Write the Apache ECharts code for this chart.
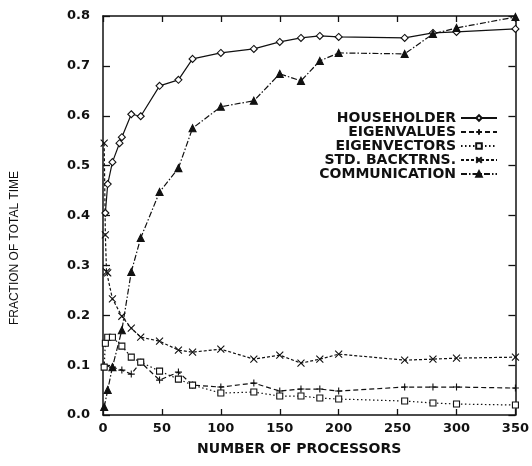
<!DOCTYPE html>
<html>
<head>
<meta charset="utf-8">
<script src="https://cdn.jsdelivr.net/npm/echarts@6.0.0/dist/echarts.min.js"></script>
<style>
html,body{margin:0;padding:0;background:#fff;}
#chart{width:532px;height:466px;}
</style>
</head>
<body>
<div id="chart"></div>
<script>
// ---- data ----
var seriesNames = ['HOUSEHOLDER', 'EIGENVALUES', 'EIGENVECTORS', 'STD. BACKTRNS.', 'COMMUNICATION'];

var householderX = [2, 4, 8, 14, 16, 24, 32, 48, 64, 76, 100, 128, 150, 168, 184, 200, 256, 280, 300, 350];
var householderY = [0.405, 0.463, 0.507, 0.545, 0.557, 0.603, 0.599, 0.660, 0.672, 0.714, 0.726, 0.734, 0.748, 0.756, 0.760, 0.758, 0.756, 0.766, 0.768, 0.774];

var eigenvaluesX = [1, 8, 16, 24, 32, 48, 64, 76, 100, 128, 150, 168, 184, 200, 256, 280, 300, 350];
var eigenvaluesY = [0.100, 0.096, 0.090, 0.082, 0.106, 0.070, 0.086, 0.060, 0.056, 0.064, 0.048, 0.052, 0.052, 0.048, 0.056, 0.056, 0.056, 0.054];

var eigenvectorsX = [1, 2, 4, 8, 16, 24, 32, 48, 64, 76, 100, 128, 150, 168, 184, 200, 256, 280, 300, 350];
var eigenvectorsY = [0.096, 0.144, 0.156, 0.156, 0.138, 0.116, 0.106, 0.088, 0.072, 0.060, 0.044, 0.046, 0.038, 0.038, 0.034, 0.032, 0.028, 0.024, 0.022, 0.020];

var backtrnsX = [1, 2, 3, 4, 8, 16, 24, 32, 48, 64, 76, 100, 128, 150, 168, 184, 200, 256, 280, 300, 350];
var backtrnsY = [0.545, 0.361, 0.287, 0.285, 0.233, 0.198, 0.174, 0.156, 0.148, 0.130, 0.126, 0.132, 0.112, 0.120, 0.104, 0.112, 0.122, 0.110, 0.112, 0.114, 0.116];

var communicationX = [1, 4, 8, 16, 24, 32, 48, 64, 76, 100, 128, 150, 168, 184, 200, 256, 280, 300, 350];
var communicationY = [0.016, 0.050, 0.096, 0.170, 0.287, 0.355, 0.447, 0.495, 0.575, 0.618, 0.630, 0.684, 0.670, 0.710, 0.726, 0.724, 0.764, 0.776, 0.798];

var xTicks = [0, 50, 100, 150, 200, 250, 300, 350];
var yTicks = [0.0, 0.1, 0.2, 0.3, 0.4, 0.5, 0.6, 0.7, 0.8];

var xTitle = 'NUMBER OF PROCESSORS';
var yTitle = 'FRACTION OF TOTAL TIME';

// ---- chart ----
function pairs(xs, ys) { return xs.map(function (x, i) { return [x, ys[i]]; }); }

var INK = '#111';
var styles = [
  { symbol: 'diamond', size: 7, fill: '#fff', dash: 'solid' },
  { symbol: 'path://M0,5L10,5M5,0L5,10', size: 7, fill: INK, dash: [5, 3] },
  { symbol: 'rect', size: 6, fill: '#fff', dash: [1.5, 2.5] },
  { symbol: 'path://M0,0L10,10M10,0L0,10', size: 7, fill: INK, dash: [3, 2] },
  { symbol: 'triangle', size: 7, fill: INK, dash: [6, 2, 1.5, 2] }
];
var dataSets = [
  pairs(householderX, householderY),
  pairs(eigenvaluesX, eigenvaluesY),
  pairs(eigenvectorsX, eigenvectorsY),
  pairs(backtrnsX, backtrnsY),
  pairs(communicationX, communicationY)
];

var series = seriesNames.map(function (name, i) {
  var s = styles[i];
  return {
    name: name,
    type: 'line',
    data: dataSets[i],
    symbol: s.symbol,
    symbolSize: s.size,
    showAllSymbol: true,
    lineStyle: { color: INK, width: 1.2, type: s.dash },
    itemStyle: { color: s.fill, borderColor: INK, borderWidth: 1.1 }
  };
});

var tickFont = { fontFamily: 'DejaVu Sans', fontWeight: 'bold', fontSize: 13, color: INK };

function xAxisDef(pos, labels) {
  return {
    type: 'value', position: pos, min: xTicks[0], max: xTicks[xTicks.length - 1],
    interval: xTicks[1] - xTicks[0],
    axisLine: { show: true, onZero: false, lineStyle: { color: INK, width: 1.5 } },
    axisTick: { show: true, inside: true, length: 6, lineStyle: { color: INK, width: 1.3 } },
    axisLabel: labels ? Object.assign({ show: true, margin: 7 }, tickFont) : { show: false },
    splitLine: { show: false }
  };
}
function yAxisDef(pos, labels) {
  return {
    type: 'value', position: pos, min: yTicks[0], max: yTicks[yTicks.length - 1],
    interval: 0.1,
    axisLine: { show: true, onZero: false, lineStyle: { color: INK, width: 1.5 } },
    axisTick: { show: true, inside: true, length: 7, lineStyle: { color: INK, width: 1.3 } },
    axisLabel: labels ? Object.assign({ show: true, margin: 13, formatter: function (v) { return v.toFixed(1); } }, tickFont) : { show: false },
    splitLine: { show: false }
  };
}

var xBottom = xAxisDef('bottom', true);
xBottom.name = xTitle;
xBottom.nameLocation = 'middle';
xBottom.nameGap = 27;
xBottom.nameTextStyle = { fontFamily: 'DejaVu Sans', fontWeight: 'bold', fontSize: 14, color: INK, padding: [0, 20, 0, 0] };

var option = {
  animation: false,
  grid: { left: 103, right: 15, top: 16, bottom: 51 },
  xAxis: [xBottom, xAxisDef('top', false)],
  yAxis: [yAxisDef('left', true), yAxisDef('right', false)],
  legend: {
    orient: 'vertical',
    align: 'right',
    right: 29,
    top: 106,
    itemWidth: 36,
    itemHeight: 7,
    itemGap: 0,
    textStyle: { fontFamily: 'DejaVu Sans', fontWeight: 'bold', fontSize: 14, color: INK, lineHeight: 14 },
    data: seriesNames
  },
  graphic: [{
    type: 'text',
    x: 15, y: 248,
    rotation: Math.PI / 2,
    style: {
      text: yTitle,
      fontFamily: 'Liberation Sans', fontSize: 12, fill: INK,
      align: 'center', verticalAlign: 'middle'
    }
  }],
  series: series
};

var chart = echarts.init(document.getElementById('chart'), null, { renderer: 'canvas' });
chart.setOption(option);
</script>
</body>
</html>
